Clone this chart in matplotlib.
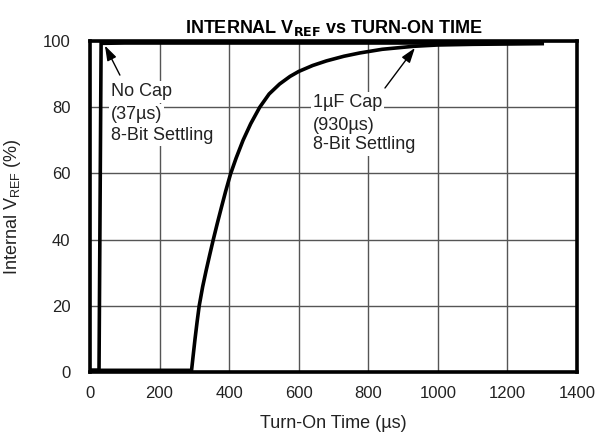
import matplotlib

matplotlib.use("Agg")

import matplotlib.pyplot as plt

# data
no_cap_t = [0, 26, 32, 100, 400, 800, 1300]
no_cap_v = [0.5, 0.5, 99.3, 99.4, 99.4, 99.4, 99.4]

cap_t = [0, 292, 297, 302, 308, 314, 324, 334, 344, 354, 366, 378, 390, 404, 420, 440, 462,
         488, 515, 545, 575, 600, 640, 680, 730, 776, 840, 930, 1000, 1100, 1300]
cap_v = [0.5, 0.5, 5.3, 10, 15.2, 20, 25.8, 30.7, 35.3, 39.8, 44.9, 49.8, 54.6, 59.8, 64.6, 70, 75,
         80, 84, 87, 89.3, 90.8, 92.6, 94.0, 95.4, 96.4, 97.5, 98.4, 98.8, 99.0, 99.2]

x_ticks = [0, 200, 400, 600, 800, 1000, 1200, 1400]
y_ticks = [0, 20, 40, 60, 80, 100]

no_cap_lines = ["No Cap", "(37\u00b5s)", "8-Bit Settling"]
no_cap_y = [84.6, 77.8, 71.6]
cap_lines = ["1\u00b5F Cap", "(930\u00b5s)", "8-Bit Settling"]
cap_y = [81.3, 74.6, 68.6]

plt.rcParams["font.family"] = ["Liberation Sans", "DejaVu Sans"]

fig = plt.figure(figsize=(6.1, 4.42), dpi=100)
ax = fig.add_axes([0.1475, 0.1584, 0.7984, 0.7488])

ax.plot(no_cap_t, no_cap_v, color="black", linewidth=2.6, solid_joinstyle="miter", zorder=4)
ax.plot(cap_t, cap_v, color="black", linewidth=2.6, solid_joinstyle="round", zorder=4)

ax.set_xlim(0, 1400)
ax.set_ylim(0, 100)
ax.set_xticks(x_ticks)
ax.set_yticks(y_ticks)
ax.grid(True, color="#555555", linewidth=1.0)
ax.set_axisbelow(True)
ax.tick_params(length=0, labelsize=12, colors="#222222")
ax.tick_params(axis="x", pad=10)
ax.tick_params(axis="y", pad=14)
for s in ax.spines.values():
    s.set_linewidth(2.6)
    s.set_zorder(5)

ax.set_xlabel("Turn-On Time (\u00b5s)", fontsize=13, labelpad=10, color="#222222")
ax.set_ylabel(r"Internal V$_\mathregular{REF}$ (%)", fontsize=13, labelpad=14, color="#222222")
ax.set_title(r"INTERNAL V$_\mathbf{REF}$ vs TURN-ON TIME", fontsize=13, fontweight="bold", pad=6)

box = dict(facecolor="white", edgecolor="none", pad=1.5)
for txt, yy in zip(no_cap_lines, no_cap_y):
    ax.text(60, yy, txt, fontsize=13, va="center", ha="left", color="#222222", bbox=box, zorder=3)
for txt, yy in zip(cap_lines, cap_y):
    ax.text(641, yy, txt, fontsize=13, va="center", ha="left", color="#222222", bbox=box, zorder=3)

arrow = dict(arrowstyle="-|>,head_length=0.9,head_width=0.3", color="black", linewidth=1.0, shrinkA=0, shrinkB=0)
ax.annotate("", xy=(43, 98.6), xytext=(86, 89.7), arrowprops=arrow, zorder=6)
ax.annotate("", xy=(934, 97.9), xytext=(848, 85.8), arrowprops=arrow, zorder=6)

fig.savefig("out.png", dpi=100)
